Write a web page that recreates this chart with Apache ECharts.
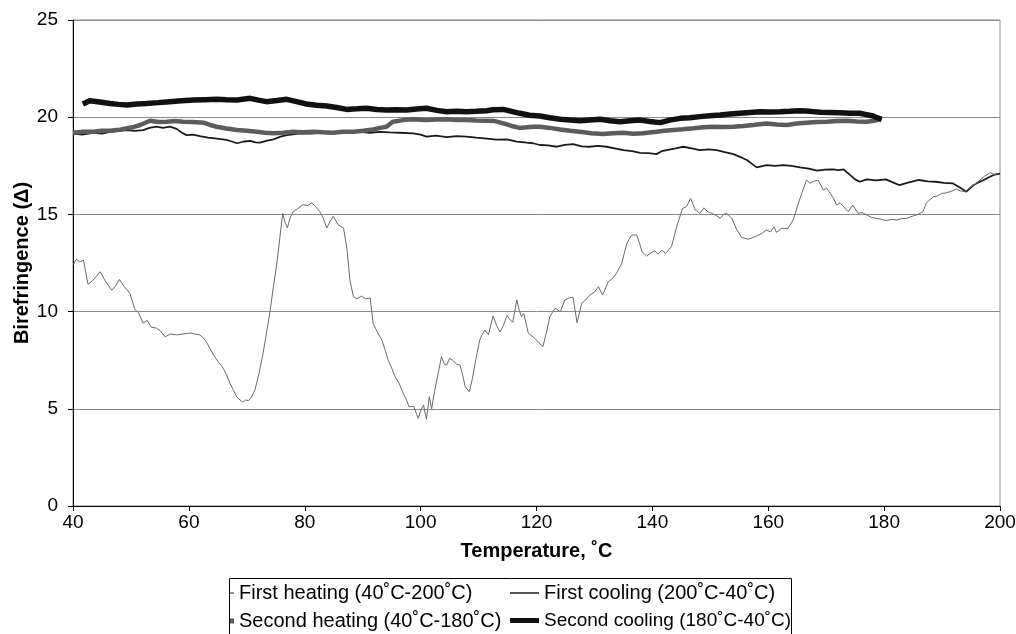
<!DOCTYPE html>
<html>
<head>
<meta charset="utf-8">
<script src="https://cdn.jsdelivr.net/npm/echarts@6/dist/echarts.min.js"></script>
<style>html,body{margin:0;padding:0;background:#fff}#c{width:1016px;height:634px}</style>
</head>
<body>
<div id="c"></div>
<script>
var xTicks = [40, 60, 80, 100, 120, 140, 160, 180, 200];
var yTicks = [0, 5, 10, 15, 20, 25];
var seriesNames = ['First heating (40˚C-200˚C)', 'First cooling (200˚C-40˚C)', 'Second heating (40˚C-180˚C)', 'Second cooling (180˚C-40˚C)'];

var firstHeating = [[40,12.4],[40.6,12.7],[41.2,12.55],[41.8,12.65],[42.6,11.4],[43.4,11.6],[44.7,12.05],[45.5,11.6],[46.7,11.1],[47.3,11.3],[48,11.65],[48.8,11.3],[49.8,10.95],[50.7,10.1],[51.3,9.95],[52.1,9.4],[52.8,9.55],[53.5,9.2],[54.4,9.15],[55.1,9.0],[55.9,8.7],[56.8,8.85],[57.9,8.8],[59,8.85],[60.2,8.9],[61,8.85],[61.9,8.8],[62.5,8.65],[63.1,8.4],[64.2,7.8],[65,7.45],[65.9,7.1],[66.5,6.75],[67.1,6.3],[67.7,5.95],[68.3,5.6],[69.3,5.33],[69.8,5.45],[70.3,5.42],[70.8,5.6],[71.4,5.97],[72.1,6.8],[72.8,7.85],[73.4,8.9],[74,10.0],[74.6,11.3],[75.2,12.5],[75.7,13.8],[76.2,15.05],[76.6,14.6],[77,14.3],[77.5,14.85],[78,15.14],[78.8,15.3],[79.7,15.5],[80.5,15.45],[81.2,15.6],[81.9,15.4],[82.6,15.14],[83.2,14.8],[83.8,14.3],[84.3,14.6],[84.9,14.9],[85.3,14.7],[85.8,14.45],[86.7,14.3],[87.3,13.2],[87.8,11.6],[88.4,10.77],[89,10.65],[89.8,10.8],[90.5,10.65],[91.3,10.7],[91.8,9.4],[92.6,8.9],[93.3,8.54],[93.9,8.0],[94.4,7.5],[95.0,7.1],[95.6,6.65],[96.3,6.3],[97,5.8],[97.5,5.5],[98,5.1],[98.8,5.13],[99.6,4.5],[100,4.9],[100.5,5.2],[101,4.46],[101.5,5.62],[101.9,5.0],[102.4,5.9],[102.8,6.48],[103.6,7.68],[104.1,7.3],[104.5,7.25],[105.0,7.6],[105.5,7.5],[106.2,7.3],[106.8,7.25],[107.2,6.8],[107.7,6.14],[108.4,5.88],[108.9,6.5],[109.4,7.34],[110.2,8.54],[110.6,8.8],[111.1,9.05],[111.7,8.8],[112.1,9.3],[112.5,9.77],[113.1,9.3],[113.7,8.95],[114.3,9.3],[114.9,9.8],[115.4,9.6],[115.9,9.45],[116.6,10.6],[117.0,10.1],[117.4,9.74],[117.8,9.9],[118.6,8.88],[119.2,8.75],[119.7,8.62],[120.4,8.4],[121.1,8.2],[121.7,8.9],[122.3,9.74],[123.2,10.17],[124.1,10.0],[124.9,10.6],[125.6,10.7],[126.3,10.74],[127,9.43],[127.8,10.43],[128.5,10.6],[129.2,10.85],[130,11.0],[130.7,11.28],[131.4,10.85],[132.4,11.54],[133.1,11.7],[133.8,11.97],[134.7,12.48],[135.6,13.51],[136.4,13.94],[137.3,13.94],[137.8,13.5],[138.2,13.08],[139,12.86],[139.7,13.0],[140.4,13.13],[141,12.95],[141.6,13.15],[142.3,13.0],[143.3,13.34],[144.2,14.37],[145.2,15.31],[145.9,15.4],[146.6,15.83],[147.4,15.23],[148.2,15.06],[148.9,15.34],[149.5,15.15],[150.2,15.06],[151,14.95],[151.7,14.8],[152.3,15.0],[152.8,15.06],[153.7,14.8],[154.6,14.2],[155.4,13.82],[156.5,13.72],[157.2,13.8],[158,13.89],[158.8,14.0],[159.7,14.2],[160.4,14.1],[161,14.37],[161.4,14.08],[162.3,14.28],[163.4,14.28],[164.3,14.71],[165.1,15.48],[165.8,16.1],[166.6,16.77],[167.2,16.6],[167.8,16.7],[168.6,16.77],[169.5,16.25],[170.1,16.35],[170.7,16.08],[171.3,15.8],[171.8,15.48],[172.4,15.6],[173,15.4],[173.8,15.14],[174.6,15.48],[175.5,15.06],[176.2,15.1],[177,14.97],[177.8,14.85],[178.7,14.8],[179.5,14.75],[180.4,14.68],[181.3,14.75],[182.2,14.71],[183,14.78],[183.9,14.8],[184.8,14.9],[185.6,14.97],[186.7,15.14],[187.3,15.6],[188.5,15.91],[189.2,15.95],[189.9,16.08],[190.6,16.1],[191.4,16.17],[192.5,16.3],[193.2,16.2],[194,16.17],[194.7,16.35],[195.4,16.5],[196.3,16.7],[197.2,16.94],[198.3,17.15],[199,17.05],[199.7,17.1]];

var firstCooling = [[40,19.17],[41.5,19.1],[43.5,19.2],[45,19.15],[46.4,19.25],[48,19.3],[49.3,19.34],[50.7,19.3],[52.1,19.34],[53.2,19.45],[54.4,19.51],[55.5,19.45],[56.7,19.51],[57.9,19.4],[58.8,19.2],[59.6,19.08],[60.7,19.1],[61.9,19.03],[63.3,18.95],[64.8,18.9],[66.5,18.83],[67.4,18.75],[68.3,18.66],[69.5,18.75],[70.6,18.78],[71.5,18.7],[72.3,18.69],[73.5,18.8],[74.6,18.86],[75.8,19.0],[76.9,19.08],[78,19.12],[79.2,19.17],[81,19.15],[82.6,19.2],[84.3,19.15],[86.1,19.2],[87.8,19.22],[89.5,19.25],[91.2,19.2],[93,19.25],[94.7,19.22],[96.4,19.2],[98.7,19.17],[100,19.1],[101,19.0],[102.7,19.05],[104.5,18.97],[106.2,19.03],[107.9,19.0],[109.6,18.95],[111.4,18.9],[113.1,18.85],[114.9,18.86],[116.6,18.74],[118.3,18.69],[119.4,18.66],[120.6,18.57],[122,18.55],[123.5,18.48],[124.9,18.58],[126.3,18.62],[127.8,18.5],[129.2,18.48],[130.6,18.52],[132.1,18.48],[133.5,18.4],[135,18.31],[136.5,18.25],[137.9,18.17],[139.3,18.15],[140.7,18.1],[141.6,18.25],[142.5,18.31],[144,18.4],[145.3,18.48],[146.8,18.4],[148.2,18.31],[149.7,18.35],[151.1,18.31],[152.5,18.2],[154,18.1],[155.2,17.95],[156.3,17.8],[157.2,17.6],[158,17.42],[159.7,17.54],[161.2,17.5],[162.6,17.54],[164,17.5],[165.5,17.42],[167,17.35],[168.4,17.25],[169.8,17.3],[171.2,17.32],[172.1,17.28],[173,17.32],[174.1,17.03],[175,16.8],[175.8,16.68],[177,16.8],[178.6,16.75],[180.3,16.8],[181.5,16.65],[182.6,16.51],[184.3,16.65],[186,16.77],[187.5,16.7],[188.9,16.68],[190.3,16.62],[191.8,16.6],[193,16.4],[194.2,16.17],[195.4,16.5],[196.3,16.65],[197.2,16.77],[198,16.9],[198.9,17.03],[200,17.1]];

var secondHeating = [[40,19.2],[41.7,19.25],[43.5,19.25],[45,19.3],[46.4,19.3],[48,19.35],[49.3,19.43],[50.5,19.5],[51.6,19.6],[53.3,19.82],[54.8,19.75],[56.2,19.77],[57.6,19.8],[59,19.77],[60.8,19.75],[62.5,19.72],[63.7,19.6],[64.8,19.51],[66.5,19.42],[68.3,19.34],[70,19.3],[71.7,19.25],[73.1,19.2],[74.6,19.17],[76.3,19.2],[78,19.25],[79.7,19.22],[81.5,19.25],[83.2,19.22],[84.9,19.2],[86.6,19.25],[88.4,19.25],[90.1,19.3],[91.8,19.37],[93,19.45],[94.1,19.51],[95.2,19.77],[97,19.85],[98.7,19.89],[100,19.87],[101,19.85],[102.8,19.88],[104.5,19.89],[106.2,19.85],[107.9,19.85],[109.6,19.83],[111.4,19.82],[112.8,19.8],[114.3,19.68],[115.7,19.55],[117.1,19.45],[118.3,19.48],[119.4,19.51],[120.6,19.51],[122.3,19.45],[124.1,19.37],[125.8,19.3],[127.5,19.25],[129.5,19.18],[131.5,19.13],[133.2,19.18],[135,19.2],[136.7,19.15],[138.4,19.17],[140.7,19.25],[142.1,19.3],[143.6,19.34],[145.3,19.38],[147.1,19.43],[148.8,19.48],[150.5,19.51],[152.3,19.5],[154,19.51],[155.7,19.55],[157.4,19.6],[159.7,19.68],[161.5,19.63],[163.2,19.6],[164.9,19.68],[166.6,19.72],[168.4,19.75],[170.1,19.77],[171.8,19.8],[173.5,19.82],[175.3,19.78],[177,19.77],[178.2,19.82],[179.3,19.89]];

var secondCooling = [[41.7,20.68],[42.9,20.85],[44.6,20.78],[46.4,20.7],[47.8,20.66],[49.3,20.63],[51,20.68],[52.7,20.71],[54.7,20.75],[56.7,20.8],[58.7,20.85],[60.8,20.88],[62.8,20.9],[64.8,20.92],[66.5,20.9],[68.3,20.88],[70.6,20.97],[72,20.88],[73.4,20.8],[75.2,20.86],[76.9,20.92],[78.6,20.8],[80.3,20.68],[82,20.62],[83.8,20.58],[85.5,20.5],[87.2,20.4],[89,20.43],[90.7,20.46],[92.4,20.4],[94.1,20.37],[95.8,20.38],[97.6,20.37],[99.3,20.42],[101,20.46],[102.8,20.35],[104.5,20.28],[106.2,20.3],[107.9,20.28],[109.6,20.3],[111.4,20.33],[112.5,20.38],[114.3,20.4],[115.7,20.3],[117.1,20.2],[118.8,20.1],[120.6,20.06],[122.3,19.97],[124.1,19.89],[125.8,19.85],[127.5,19.82],[129.2,19.86],[131,19.89],[132.7,19.82],[134.4,19.77],[136.1,19.82],[137.9,19.85],[139.6,19.78],[141.3,19.72],[143,19.85],[144.8,19.94],[146.5,19.97],[148.2,20.03],[149.9,20.07],[151.7,20.11],[153.4,20.16],[155.1,20.2],[156.8,20.24],[158.6,20.28],[160.3,20.27],[162,20.28],[163.7,20.3],[165.5,20.33],[167.2,20.3],[169,20.25],[170.7,20.24],[172.4,20.23],[174.1,20.2],[175.8,20.2],[177,20.13],[178.1,20.06],[179,19.95],[179.6,19.89]];

var FONT = 'Liberation Sans, Arial, sans-serif';
var COLORS = ['#6a6a6a', '#1a1a1a', '#5c5c5c', '#111111'];
var chart = echarts.init(document.getElementById('c'), null, {renderer: 'canvas'});

function leg(name, left, top, w, h, size) {
  return {
    left: left, top: top, orient: 'horizontal', padding: 0, itemGap: 0,
    itemWidth: w, itemHeight: h, icon: 'rect', selectedMode: false,
    data: [name], textStyle: {fontFamily: FONT, fontSize: size, color: '#000'}
  };
}

chart.setOption({
  animation: false,
  backgroundColor: '#fff',
  grid: {left: 73, right: 16, top: 20, bottom: 128, show: true, borderColor: '#8a8a8a', borderWidth: 1,
         containLabel: false, outerBoundsMode: 'none'},
  xAxis: {
    type: 'value', min: xTicks[0], max: xTicks[xTicks.length - 1], interval: 20,
    name: 'Temperature, ˚C', nameLocation: 'middle', nameGap: 35, nameMoveOverlap: false,
    nameTextStyle: {fontFamily: FONT, fontSize: 20, fontWeight: 'bold', color: '#000'},
    axisLine: {show: true, onZero: false, lineStyle: {color: '#000', width: 1}},
    axisTick: {show: true, inside: false, length: 5, lineStyle: {color: '#000'}},
    axisLabel: {fontFamily: FONT, fontSize: 19, color: '#000', margin: 7},
    splitLine: {show: false}
  },
  yAxis: {
    type: 'value', min: yTicks[0], max: yTicks[yTicks.length - 1], interval: 5,
    name: 'Birefringence (Δ)', nameLocation: 'middle', nameGap: 41, nameRotate: 90, nameMoveOverlap: false,
    nameTextStyle: {fontFamily: FONT, fontSize: 20, fontWeight: 'bold', color: '#000'},
    axisLine: {show: true, lineStyle: {color: '#000', width: 1}},
    axisTick: {show: true, inside: false, length: 5, lineStyle: {color: '#000'}},
    axisLabel: {fontFamily: FONT, fontSize: 19, color: '#000', margin: 15},
    splitLine: {show: true, lineStyle: {color: '#8a8a8a', width: 1}}
  },
  legend: [
    leg(seriesNames[0], 229, 583, 5, 1.5, 20),
    leg(seriesNames[1], 510, 583, 29, 1.5, 20),
    leg(seriesNames[2], 229, 611, 5, 5, 20),
    leg(seriesNames[3], 510, 611, 29, 5, 19)
  ],
  graphic: [{
    type: 'rect', shape: {x: 229.5, y: 578.5, width: 562, height: 80},
    style: {fill: 'none', stroke: '#000', lineWidth: 1}, z: 100, silent: true
  }],
  series: [
    {name: seriesNames[0], type: 'line', data: firstHeating, showSymbol: false, symbol: 'none',
     lineStyle: {color: COLORS[0], width: 1}, itemStyle: {color: COLORS[0]}, z: 4},
    {name: seriesNames[1], type: 'line', data: firstCooling, showSymbol: false, symbol: 'none',
     lineStyle: {color: COLORS[1], width: 1.8}, itemStyle: {color: COLORS[1]}, z: 3},
    {name: seriesNames[2], type: 'line', data: secondHeating, showSymbol: false, symbol: 'none',
     lineStyle: {color: COLORS[2], width: 4.5}, itemStyle: {color: COLORS[2]}, z: 5},
    {name: seriesNames[3], type: 'line', data: secondCooling, showSymbol: false, symbol: 'none',
     lineStyle: {color: COLORS[3], width: 5.5}, itemStyle: {color: COLORS[3]}, z: 6}
  ]
});
</script>
</body>
</html>
